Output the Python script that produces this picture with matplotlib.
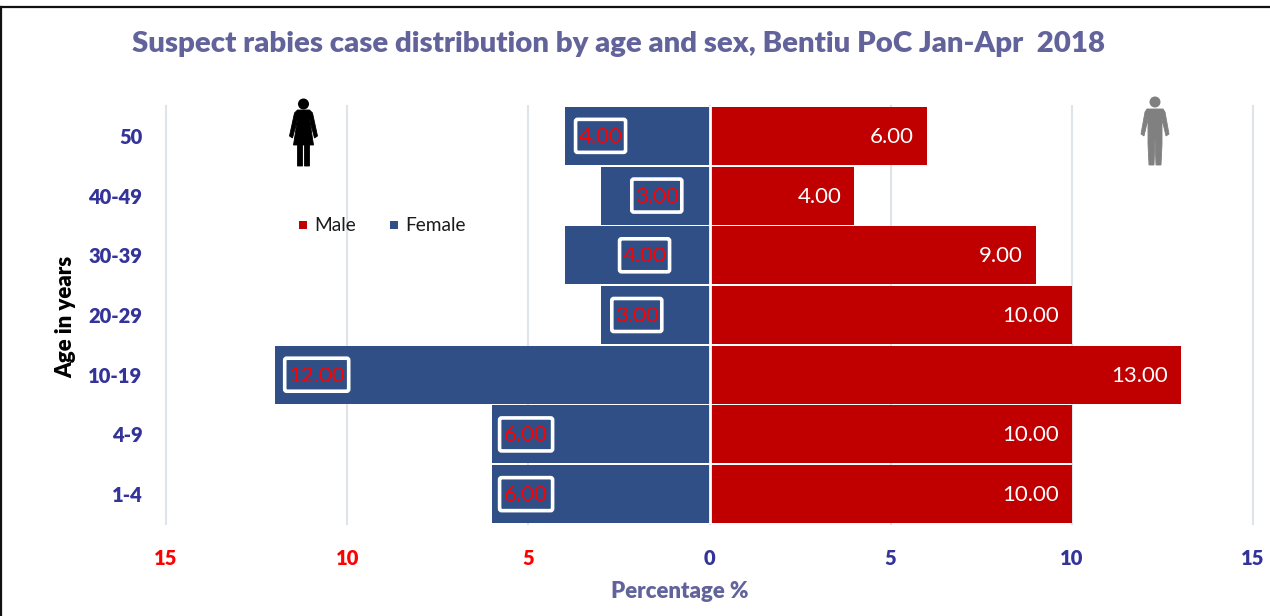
import matplotlib
matplotlib.use("Agg")
import matplotlib.pyplot as plt
from matplotlib.patches import Polygon, Circle, Rectangle, FancyBboxPatch
from matplotlib.lines import Line2D
from matplotlib.transforms import IdentityTransform

plt.rcParams['font.family'] = ['Lato', 'DejaVu Sans']

W, H = 1270, 616

ages = ['1-4', '4-9', '10-19', '20-29', '30-39', '40-49', '50']
female = [6, 6, 12, 3, 4, 3, 4]
male = [10, 10, 13, 10, 9, 4, 6]
x_ticks = [-15, -10, -5, 0, 5, 10, 15]
x_tick_labels = ['15', '10', '5', '0', '5', '10', '15']
x_tick_colors = ['#ff0000', '#ff0000', '#ff0000', '#33339a', '#33339a', '#33339a', '#33339a']

# shift of the female labels from the end of the bar, in pixels
female_label_shift = [34, 34, 42, 36, 80, 56, 36]
female_box_width = [57, 57, 68, 54, 54, 54, 54]

RED = '#c00000'
BLUE = '#2f4f86'
TITLE = '#63639c'
NAVY = '#33339a'
HEAVY = 'heavy'


def px_box(x0, y0, x1, y1):
    return [x0 / W, 1 - y1 / H, (x1 - x0) / W, (y1 - y0) / H]


def draw_person(fig, cx, top, color, skirt):
    # little pictogram, coordinates in image pixels
    tr = fig.transFigure
    def P(pts):
        return Polygon([((cx + x) / W, 1 - (top + y) / H) for x, y in pts],
                       closed=True, facecolor=color, edgecolor=color, lw=0.6,
                       transform=tr)
    fig.add_artist(Circle((cx, H - (top + 5)), 5.5, facecolor=color,
                          edgecolor='none', transform=IdentityTransform()))
    if skirt:
        fig.add_artist(P([(-6, 11), (6, 11), (9, 14), (14, 37), (11, 39), (6, 20), (10, 46),
                          (6, 46), (6, 67), (1, 67), (1, 46), (-1, 46), (-1, 67), (-6, 67),
                          (-6, 46), (-10, 46), (-6, 20), (-11, 39), (-14, 37), (-9, 14)]))
    else:
        fig.add_artist(P([(-8, 12), (8, 12), (10, 15), (14, 37), (11, 39), (7, 22), (7, 47),
                          (6, 68), (1, 68), (0, 42), (-1, 68), (-6, 68), (-7, 47), (-7, 22),
                          (-11, 39), (-14, 37), (-10, 15)]))


fig = plt.figure(figsize=(W / 100, H / 100), dpi=100)
ax = fig.add_axes(px_box(166, 106, 1253, 524))

y = list(range(len(ages)))
ax.barh(y, male, height=0.97, color=RED, zorder=3)
ax.barh(y, [-v for v in female], height=0.97, color=BLUE, zorder=3)
ax.axvline(0, color='white', lw=2, zorder=4)

ax.set_xlim(-15, 15)
ax.set_ylim(-0.5, 6.5)
ax.set_xticks(x_ticks)
ax.set_xticklabels(x_tick_labels, fontsize=14.5, fontweight=HEAVY)
for lab, c in zip(ax.get_xticklabels(), x_tick_colors):
    lab.set_color(c)
ax.set_yticks(y)
ax.set_yticklabels(ages, fontsize=14.5, fontweight=HEAVY, color=NAVY)
ax.tick_params(axis='both', length=0)
ax.tick_params(axis='x', pad=18)
ax.tick_params(axis='y', pad=17)
ax.grid(axis='x', color='#dfe3ea', lw=1.5, zorder=0)
for gl in ax.get_xgridlines():
    gl.set_clip_on(False)
for s in ax.spines.values():
    s.set_visible(False)

for i in y:
    ax.annotate(f'{male[i]:.2f}', xy=(male[i], i), xytext=(-13, -1), textcoords='offset pixels',
                ha='right', va='center', color='white', fontsize=16, zorder=5)
    # white box is taller than a text bbox pad would make it
    cx, cy = ax.transData.transform((-female[i], i))
    cx += female_label_shift[i]
    bw = female_box_width[i]
    ax.add_patch(FancyBboxPatch((cx - bw / 2 + 2, cy - 16.5), bw - 4, 33,
                                boxstyle='round,pad=0,rounding_size=2', facecolor=BLUE,
                                edgecolor='white', lw=2.6, transform=IdentityTransform(),
                                zorder=5))
    ax.annotate(f'{female[i]:.2f}', xy=(-female[i], i), xytext=(female_label_shift[i], -1),
                textcoords='offset pixels', ha='center', va='center', color='#ff0000',
                fontsize=16, zorder=6)

fig.text(680 / W, 1 - 591 / H, 'Percentage %', ha='center', va='center', fontsize=16,
         fontweight=HEAVY, color=TITLE)
fig.text(66 / W, 1 - 317 / H, 'Age in years', rotation=90, ha='center', va='center',
         fontsize=16, fontweight=HEAVY, color='black')

fig.text(618.5 / W, 1 - 44 / H, 'Suspect rabies case distribution by age and sex, Bentiu PoC Jan-Apr  2018',
         ha='center', va='center', fontsize=21.2, fontweight=HEAVY, color=TITLE)

# legend
fig.add_artist(Rectangle((299 / W, 1 - 229 / H), 8 / W, 8 / H, facecolor=RED, edgecolor='none', transform=fig.transFigure))
fig.add_artist(Rectangle((390 / W, 1 - 229 / H), 8 / W, 8 / H, facecolor=BLUE, edgecolor='none', transform=fig.transFigure))
fig.text(314 / W, 1 - 226 / H, 'Male', ha='left', va='center', fontsize=13.8, color='#1a1a1a')
fig.text(405 / W, 1 - 226 / H, 'Female', ha='left', va='center', fontsize=13.8, color='#1a1a1a')

draw_person(fig, 303.5, 99, '#000000', True)
draw_person(fig, 1155, 97, '#808080', False)

# only top and left edges of the frame show
fig.add_artist(Line2D([0, 1], [1 - 7 / H, 1 - 7 / H], color='#111111', lw=1.6, transform=fig.transFigure))
fig.add_artist(Line2D([1 / W, 1 / W], [0, 1 - 7 / H], color='#111111', lw=1.6, transform=fig.transFigure))

fig.savefig('out.png', dpi=100)
